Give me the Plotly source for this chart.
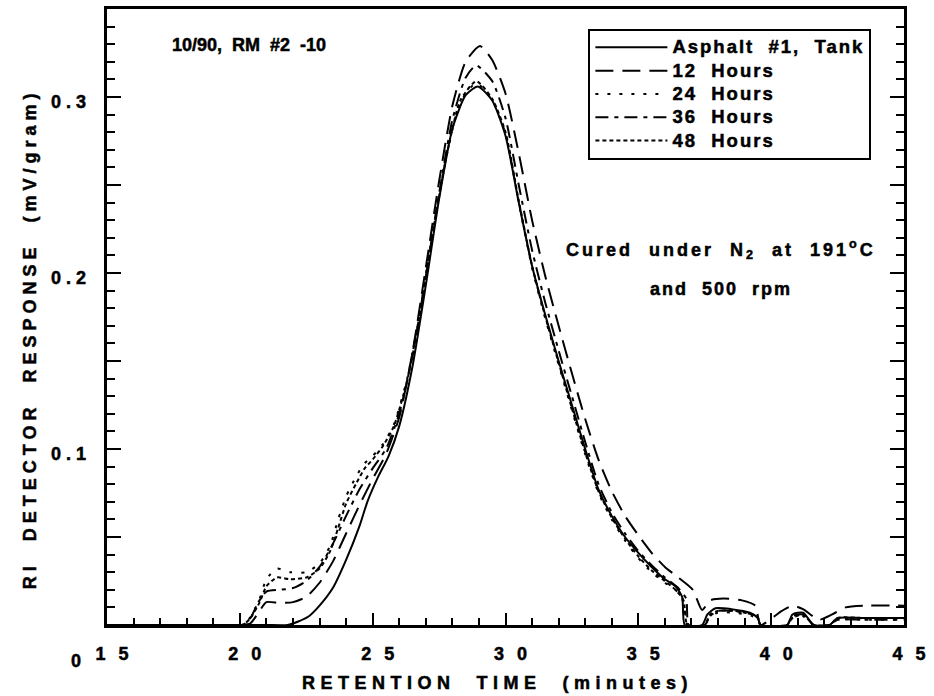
import plotly.graph_objects as go

# ---------------- data ----------------
series_names = ["Asphalt  #1,  Tank", "12  Hours", "24  Hours", "36  Hours", "48  Hours"]

tank_t = [15, 16, 17, 18, 19, 20, 21, 21.8, 22.2, 22.6, 23.0, 23.5, 24.0, 24.5, 24.8, 25.2, 25.6, 26.0, 26.5,
          27.0, 27.5, 28.0, 28.5, 28.96, 29.5, 30.0, 30.5, 31.0, 31.5, 32.0, 32.5, 33.0, 33.5, 34.0, 34.5,
          35.0, 35.5, 36.0, 36.4, 36.65, 36.75, 37.4, 37.6, 37.9, 38.5, 39.2, 39.5, 39.6, 40.6, 40.8, 41.2,
          41.6, 42.2, 42.5, 43.5, 45.0]
tank_v = [0, 0, 0, 0, 0, 0, 0, 0, 0.002, 0.005, 0.011, 0.021, 0.037, 0.056, 0.070, 0.084, 0.096, 0.113, 0.147,
          0.193, 0.242, 0.282, 0.301, 0.306, 0.298, 0.278, 0.240, 0.204, 0.176, 0.150, 0.125, 0.100, 0.077, 0.062, 0.050,
          0.041, 0.033, 0.026, 0.022, 0.016, 0.0, 0.0, 0.006, 0.0095, 0.009, 0.007, 0.004, 0, 0, 0.006, 0.007,
          0, 0, 0.004, 0.004, 0.004]

h12_t = [15, 20, 20.4, 20.7, 21.0, 21.5, 22.0, 22.5, 23.0, 23.5, 24.0, 24.5, 25.0, 25.5, 26.0, 26.5, 27.0,
         27.5, 28.0, 28.5, 29.04, 29.5, 30.0, 30.5, 31.0, 31.5, 32.0, 32.5, 33.0, 33.5, 34.0, 34.5, 35.0,
         35.5, 36.0, 36.5, 37.05, 37.4, 37.7, 38.2, 38.9, 39.4, 39.6, 40.4, 40.8, 41.2, 41.8, 42.3, 42.8,
         43.5, 45.0]
h12_v = [0, 0, 0.001, 0.007, 0.013, 0.0125, 0.013, 0.016, 0.024, 0.036, 0.052, 0.068, 0.083, 0.097, 0.118,
         0.155, 0.203, 0.252, 0.295, 0.320, 0.329, 0.321, 0.302, 0.268, 0.230, 0.198, 0.170, 0.143, 0.117,
         0.094, 0.076, 0.062, 0.051, 0.041, 0.033, 0.027, 0.020, 0.0085, 0.014, 0.015, 0.014, 0.011, 0,
         0.008, 0.011, 0.009, 0.003, 0.006, 0.010, 0.011, 0.011]

h24_t = [15, 20.1, 20.4, 20.75, 21.0, 21.4, 21.9, 22.5, 23.0, 23.4, 23.7, 24.0, 24.4, 24.7, 25.0, 25.4, 25.8,
         26.3, 26.8, 27.3, 27.8, 28.3, 28.9, 29.5, 30.0, 30.5, 31.0, 31.5, 32.0, 32.5, 33.0, 33.5, 34.0,
         34.5, 35.0, 35.5, 36.0, 36.4, 36.7, 36.85, 37.5, 37.7, 38.0, 38.6, 39.3, 39.5, 39.6, 40.6, 40.8,
         41.2, 41.6, 42.2, 42.5, 43.5, 45]
h24_v = [0, 0, 0.0045, 0.015, 0.026, 0.032, 0.030, 0.030, 0.035, 0.045, 0.060, 0.073, 0.085, 0.092, 0.096,
         0.103, 0.114, 0.140, 0.180, 0.227, 0.268, 0.297, 0.308, 0.298, 0.279, 0.240, 0.203, 0.174, 0.148,
         0.122, 0.097, 0.075, 0.060, 0.048, 0.038, 0.030, 0.024, 0.020, 0.013, 0, 0, 0.005, 0.007, 0.007,
         0.005, 0.003, 0, 0, 0.004, 0.005, 0, 0, 0.003, 0.003, 0.003]

h36_t = [15, 20.1, 20.4, 20.7, 21.0, 21.5, 22.0, 22.5, 23.0, 23.5, 24.0, 24.5, 25.0, 25.5, 26.0, 26.5, 27.0,
         27.5, 28.0, 28.5, 28.9, 29.5, 30.0, 30.5, 31.0, 31.5, 32.0, 32.5, 33.0, 33.5, 34.0, 34.5, 35.0,
         35.5, 36.0, 36.5, 36.8, 36.9, 37.5, 37.7, 38.0, 38.6, 39.3, 39.5, 39.6, 40.6, 40.8, 41.2, 41.6,
         42.2, 42.5, 43.5, 45]
h36_v = [0, 0, 0.004, 0.013, 0.019, 0.020, 0.021, 0.025, 0.033, 0.046, 0.062, 0.077, 0.089, 0.100, 0.120,
         0.153, 0.198, 0.245, 0.287, 0.311, 0.318, 0.309, 0.288, 0.250, 0.213, 0.183, 0.156, 0.130, 0.104,
         0.080, 0.064, 0.052, 0.042, 0.034, 0.027, 0.021, 0.015, 0, 0, 0.005, 0.008, 0.008, 0.006, 0.004, 0,
         0, 0.005, 0.006, 0, 0, 0.003, 0.003, 0.003]

h48_t = [15, 20.1, 20.4, 20.75, 21.0, 21.4, 21.9, 22.5, 23.0, 23.4, 23.7, 24.0, 24.4, 24.7, 25.0, 25.4, 25.8,
         26.3, 26.8, 27.3, 27.8, 28.3, 28.9, 29.5, 30.0, 30.5, 31.0, 31.5, 32.0, 32.5, 33.0, 33.5, 34.0,
         34.5, 35.0, 35.5, 36.0, 36.4, 36.7, 36.85, 37.5, 37.7, 38.0, 38.6, 39.3, 39.5, 39.6, 40.6, 40.8,
         41.2, 41.6, 42.2, 42.5, 43.5, 45]
h48_v = [0, 0, 0.004, 0.013, 0.022, 0.027, 0.026, 0.027, 0.032, 0.042, 0.055, 0.069, 0.081, 0.089, 0.094,
         0.102, 0.113, 0.139, 0.179, 0.226, 0.268, 0.298, 0.309, 0.299, 0.280, 0.241, 0.204, 0.175, 0.149,
         0.123, 0.098, 0.076, 0.061, 0.049, 0.039, 0.031, 0.025, 0.020, 0.014, 0, 0, 0.006, 0.008, 0.008,
         0.006, 0.004, 0, 0, 0.004, 0.006, 0, 0, 0.004, 0.004, 0.004]

x_tickvals = [15, 20, 25, 30, 35, 40, 45]
x_ticktext = ["1 5", "2 0", "2 5", "3 0", "3 5", "4 0", "4 5"]
y_major_ticks = [0, 0.05, 0.1, 0.15, 0.2, 0.25, 0.3, 0.35]
y_label_vals = [0, 0.1, 0.2, 0.3]
y_label_text = ["0", "0 . 1", "0 . 2", "0 . 3"]

FONT = "Liberation Sans, Arial, Helvetica, sans-serif"

data_t = [tank_t, h12_t, h24_t, h36_t, h48_t]
data_v = [tank_v, h12_v, h24_v, h36_v, h48_v]
dashes = ["solid", "18px,9px", "3px,9px", "13px,6px,4px,6px", "4px,3px"]


def spaced(text, ls, size=18):
    return (f'<span style="font-size:{size}px;letter-spacing:{ls}px;stroke:black;stroke-width:0.5px">'
            f'<b>{text}</b></span>')


fig = go.Figure()
for name, t, v, d in zip(series_names, data_t, data_v, dashes):
    fig.add_trace(go.Scatter(
        x=t, y=v, mode="lines",
        name=spaced(name, 2, 18.5),
        line=dict(color="black", width=2, dash=d, shape="spline", smoothing=0.6),
    ))

bold_font = dict(family=FONT, size=18, color="black", weight="bold")

axis_common = dict(
    showgrid=False, zeroline=False, linecolor="black", linewidth=3,
    ticks="inside", tickcolor="black", tickwidth=2, automargin=False,
)

fig.update_xaxes(
    range=[15, 45], tickmode="array", tickvals=x_tickvals,
    ticktext=[spaced(s, 4) for s in x_ticktext],
    tickfont=bold_font,
    ticklen=12, mirror=True, ticklabelstandoff=10, ticklabelshift=7,
    minor=dict(tickmode="linear", tick0=15, dtick=1, ticks="inside", ticklen=7, tickwidth=2, tickcolor="black"),
    **axis_common,
)
fig.update_yaxes(
    range=[0, 0.35], tickmode="array", tickvals=y_major_ticks, showticklabels=False,
    ticklen=14, mirror="ticks",
    minor=dict(tickmode="linear", tick0=0, dtick=0.01, ticks="inside", ticklen=8, tickwidth=2, tickcolor="black"),
    **axis_common,
)

annotations = []
for val, lab in zip(y_label_vals, y_label_text):
    annotations.append(dict(
        text=spaced(lab, 0), x=-0.024 if val > 0 else -0.030, y=val, xref="paper", yref="y",
        showarrow=False, font=bold_font, xanchor="right", yanchor="middle",
        yshift=-5 if val > 0 else -36,
    ))

annotations += [
    dict(text=spaced("RETENTION  TIME  (minutes)", 5.5), x=0.490, y=-0.094,
         xref="paper", yref="paper", showarrow=False, font=bold_font, xanchor="center", yanchor="middle"),
    dict(text=spaced("RI  DETECTOR  RESPONSE  (mV/gram)", 5), x=-0.097, y=0.465,
         xref="paper", yref="paper", showarrow=False, font=bold_font, textangle=-90,
         xanchor="center", yanchor="middle"),
    dict(text=spaced("10/90,  RM  #2  -10", 0), x=0.079, y=0.9416, xref="paper", yref="paper", showarrow=False,
         font=bold_font, xanchor="left", yanchor="middle"),
    dict(text=spaced("Cured  under  N<sub>2</sub>  at  191<sup>o</sup>C", 3),
         x=0.770, y=0.609, xref="paper", yref="paper",
         showarrow=False, font=bold_font, xanchor="center", yanchor="middle"),
    dict(text=spaced("and  500  rpm", 2), x=0.771, y=0.546,
         xref="paper", yref="paper", showarrow=False,
         font=bold_font, xanchor="center", yanchor="middle"),
]

fig.update_layout(
    width=934, height=696,
    margin=dict(l=107, r=30, t=9, b=71),
    paper_bgcolor="white", plot_bgcolor="white",
    font=dict(family=FONT, color="black"),
    showlegend=True,
    legend=dict(
        x=0.604, y=0.968, xanchor="left", yanchor="top",
        bgcolor="white", bordercolor="black", borderwidth=2,
        font=dict(family=FONT, size=15.6, color="black", weight="bold"),
        itemwidth=72, tracegroupgap=0,
    ),
    annotations=annotations,
)

fig.write_html("out.html", config={"displayModeBar": False})
